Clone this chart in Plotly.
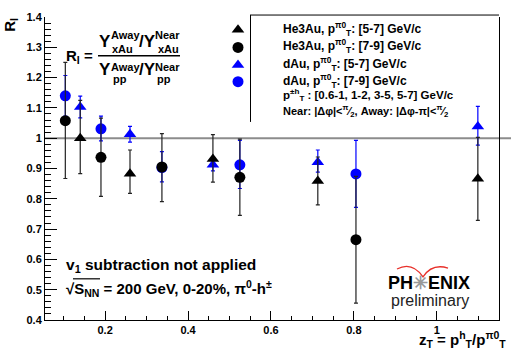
import plotly.graph_objects as go

# ---------------- data ----------------
zt_57 = [0.14, 0.26, 0.46, 0.713, 1.099]
zt_79 = [0.104, 0.19, 0.337, 0.525, 0.805]

he3_57 = [1.000, 0.883, 0.931, 0.859, 0.866]
he3_57_up = [0.125, 0.078, 0.081, 0.079, 0.137]
he3_57_dn = [0.117, 0.065, 0.076, 0.079, 0.137]

he3_79 = [1.058, 0.937, 0.905, 0.871, 0.665]
he3_79_up = [0.192, 0.129, 0.110, 0.126, 0.209]
he3_79_dn = [0.191, 0.129, 0.114, 0.126, 0.209]

dau_57 = [1.103, 1.013, 0.912, 0.921, 1.039]
dau_57_up = [0.036, 0.026, 0.020, 0.040, 0.066]
dau_57_dn = [0.036, 0.026, 0.020, 0.033, 0.062]

dau_79 = [1.140, 1.031, 0.903, 0.912, 0.882]
dau_79_up = [0.067, 0.042, 0.053, 0.081, 0.111]
dau_79_dn = [0.067, 0.040, 0.047, 0.078, 0.110]

x_tickvals = [0.2, 0.4, 0.6, 0.8, 1.0]
x_ticktext = ["0.2", "0.4", "0.6", "0.8", "1"]
y_tickvals = [0.4, 0.5, 0.6, 0.7, 0.8, 0.9, 1.0, 1.1, 1.2, 1.3, 1.4]
y_ticktext = ["0.4", "0.5", "0.6", "0.7", "0.8", "0.9", "1", "1.1", "1.2", "1.3", "1.4"]

names = [
    "He3Au, p<sup>π0</sup><sub>T</sub>: [5-7] GeV/c",
    "He3Au, p<sup>π0</sup><sub>T</sub>: [7-9] GeV/c",
    "dAu, p<sup>π0</sup><sub>T</sub>: [5-7] GeV/c",
    "dAu, p<sup>π0</sup><sub>T</sub>: [7-9] GeV/c",
]

# ---------------- layout geometry ----------------
W, H = 511, 353
L, R, T, B = 45, 12, 11, 33
PW, PH = W - L - R, H - T - B


def px(x):
    return (x - L) / PW


def py(y):
    return (H - B - y) / PH


FONT = "Liberation Sans"
BLUE = "#0000ff"
BLACK = "#000000"

# legend key layout (pixel positions of the hand-made legend)
LEG_KEY_X = 238
LEG_ROW_Y = [24, 42, 60, 77]
LEG_TEXT_X = 281

fig = go.Figure()

series = [
    # (x, y, up, dn, colour, symbol, name, errcolour)
    (zt_57, dau_57, dau_57_up, dau_57_dn, BLUE, "triangle-up", names[2], BLUE),
    (zt_79, dau_79, dau_79_up, dau_79_dn, BLUE, "circle", names[3], BLUE),
    (zt_57, he3_57, he3_57_up, he3_57_dn, BLACK, "triangle-up", names[0], "#222222"),
    (zt_79, he3_79, he3_79_up, he3_79_dn, BLACK, "circle", names[1], "#222222"),
]
for x, y, up, dn, col, sym, name, ecol in series:
    fig.add_trace(go.Scatter(
        x=x, y=y, mode="markers", name=name, showlegend=False,
        marker=dict(color=col, symbol=sym, size=11, line=dict(width=0)),
        error_y=dict(type="data", symmetric=False, array=up, arrayminus=dn,
                     color=ecol, thickness=1.2, width=2),
        cliponaxis=False,
    ))

# legend keys drawn on an overlay pixel axis
legend_order = [2, 3, 0, 1]  # series index for rows He3Au57, He3Au79, dAu57, dAu79
for row, si in enumerate(legend_order):
    _, _, _, _, col, sym, name, _ = series[si]
    fig.add_trace(go.Scatter(
        x=[LEG_KEY_X], y=[LEG_ROW_Y[row]], xaxis="x2", yaxis="y2", mode="markers",
        marker=dict(color=col, symbol=sym, size=11, line=dict(width=0)),
        showlegend=False, hoverinfo="skip", cliponaxis=False,
    ))

annotations = []


def txt(text, x, y, size, xanchor="left", bold=True, color="black", angle=0):
    annotations.append(dict(
        text=text, x=px(x), y=py(y), xref="paper", yref="paper",
        xanchor=xanchor, yanchor="middle", showarrow=False, textangle=angle,
        font=dict(family=FONT, size=size, color=color, weight="bold" if bold else "normal"),
    ))


# legend texts
for row, name in enumerate(names):
    txt(name, LEG_TEXT_X, LEG_ROW_Y[row] - 1, 12)
txt("p<sup>±h</sup><sub>T</sub> : [0.6-1, 1-2, 3-5, 5-7] GeV/c", LEG_TEXT_X, 91, 11.5)
txt("Near: |Δφ|&lt;<sup>π</sup>⁄<sub>2</sub>, Away: |Δφ-π|&lt;<sup>π</sup>⁄<sub>2</sub>", LEG_TEXT_X, 107, 11)

# R_I formula
txt("R<sub>I</sub> =", 64, 51, 15)
txt("Y", 97, 36, 17)
txt("Away", 109, 29, 11)
txt("xAu", 110, 44, 11)
txt("/Y", 137, 36, 17)
txt("Near", 153, 29, 11)
txt("xAu", 156, 44, 11)
txt("Y", 97, 65, 17)
txt("Away", 109, 62, 11)
txt("pp", 111, 74, 11)
txt("/Y", 137, 65, 17)
txt("Near", 153, 62, 11)
txt("pp", 155, 74, 11)

# bottom-left texts
txt("v<sub>1</sub> subtraction not applied", 64, 264, 15.5)
txt("√S<sub>NN</sub> = 200 GeV, 0-20%, π<sup>0</sup>-h<sup>±</sup>", 64, 288, 15)

# PHENIX logo
txt("PH<span style='color:#999999'>✳</span>ENIX", 429, 282, 18, xanchor="center")
txt("preliminary", 430, 300, 16, xanchor="center", bold=False, color="#222222")

# axis titles
txt("z<sub>T</sub> = p<sup>h</sup><sub>T</sub>/p<sup>π0</sup><sub>T</sub>", 417, 340, 15)
txt("R<sub>I</sub>", 11, 19, 15, xanchor="center", angle=-90)

shapes = [
    # fraction bar
    dict(type="line", xref="paper", yref="paper", x0=px(98), x1=px(180), y0=py(50.5), y1=py(50.5),
         line=dict(color="black", width=1.5)),
    # unity line
    dict(type="line", xref="paper", yref="y", x0=0, x1=px(511), y0=1.0, y1=1.0,
         line=dict(color="#8c8c8c", width=2), layer="below"),
    # legend box
    dict(type="line", xref="paper", yref="paper", x0=px(250), x1=px(499), y0=py(9), y1=py(9),
         line=dict(color="black", width=1)),
    dict(type="line", xref="paper", yref="paper", x0=px(250.5), x1=px(250.5), y0=py(9), y1=py(118),
         line=dict(color="black", width=1)),
    # sqrt overline
    dict(type="line", xref="paper", yref="paper", x0=px(73), x1=px(100), y0=py(278), y1=py(278),
         line=dict(color="black", width=1.2)),
    # PHENIX red arc
    dict(type="path", xref="paper", yref="paper",
         path="M {},{} Q {},{} {},{} Q {},{} {},{}".format(
             px(397), py(268), px(412), py(260), px(423), py(276),
             px(432), py(262), px(448), py(267)),
         line=dict(color="#e8302a", width=1.3)),
]

fig.update_layout(
    width=W, height=H,
    margin=dict(l=L, r=R, t=T, b=B, pad=0),
    paper_bgcolor="white", plot_bgcolor="white",
    showlegend=False,
    annotations=annotations,
    shapes=shapes,
    xaxis=dict(range=[0.055, 1.15], showgrid=False, zeroline=False,
               showline=True, linecolor="black", linewidth=1,
               tickmode="array", tickvals=x_tickvals, ticktext=x_ticktext,
               ticks="inside", ticklen=9, tickcolor="black", tickwidth=1,
               minor=dict(dtick=0.05, tick0=0, ticks="inside", ticklen=4, tickcolor="black", showgrid=False),
               tickfont=dict(family=FONT, size=11, color="black", weight="bold")),
    yaxis=dict(range=[0.4, 1.4], showgrid=False, zeroline=False,
               showline=True, linecolor="black", linewidth=1, mirror=True,
               tickmode="array", tickvals=y_tickvals, ticktext=y_ticktext,
               ticks="inside", ticklen=12, tickcolor="black", tickwidth=1,
               minor=dict(dtick=0.02, tick0=0, ticks="inside", ticklen=6, tickcolor="black", showgrid=False),
               tickfont=dict(family=FONT, size=11, color="black", weight="bold")),
    xaxis2=dict(overlaying="x", range=[L, W - R], visible=False, fixedrange=True),
    yaxis2=dict(overlaying="y", range=[H - B, T], visible=False, fixedrange=True),
)

fig.write_html("out.html")
